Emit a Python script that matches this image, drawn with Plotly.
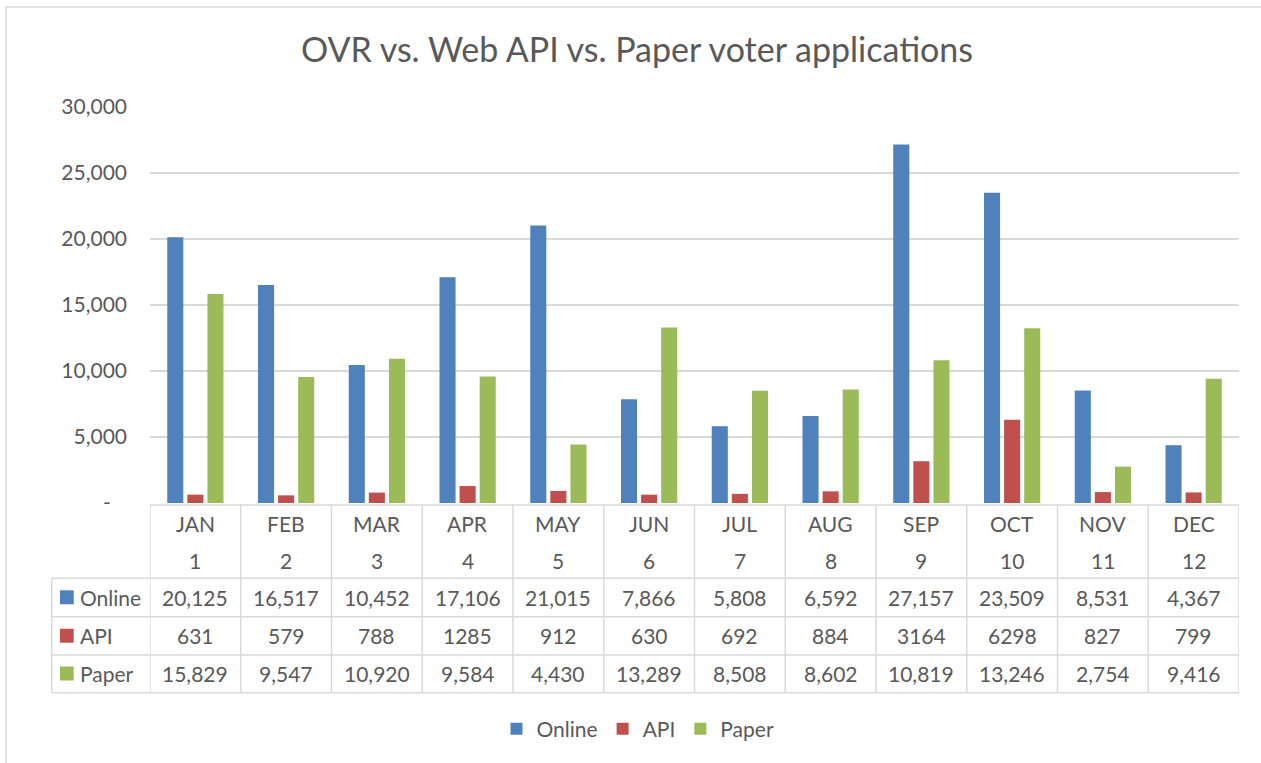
import plotly.graph_objects as go

months = ["JAN", "FEB", "MAR", "APR", "MAY", "JUN", "JUL", "AUG", "SEP", "OCT", "NOV", "DEC"]
month_nums = [1, 2, 3, 4, 5, 6, 7, 8, 9, 10, 11, 12]
online = [20125, 16517, 10452, 17106, 21015, 7866, 5808, 6592, 27157, 23509, 8531, 4367]
api = [631, 579, 788, 1285, 912, 630, 692, 884, 3164, 6298, 827, 799]
paper = [15829, 9547, 10920, 9584, 4430, 13289, 8508, 8602, 10819, 13246, 2754, 9416]
y_ticks = [0, 5000, 10000, 15000, 20000, 25000, 30000]
title = "OVR vs. Web API vs. Paper voter applications"

C_BLUE, C_RED, C_GREEN = "#4F81BD", "#C0504D", "#9BBB59"
TXT = "#595959"
GRID = "#D9D9D9"
FONT = "Lato"

W, H = 1261, 763
L, R, T, B = 150, 22, 107, 260
PW = W - L - R
PH = H - T - B
BOT = H - B  # pixel y of zero line


def yp(py):
    return (BOT - py) / PH


def xp(px):
    return (px - L) / PW


series = [("Online", online, C_BLUE, "{:,}"), ("API", api, C_RED, "{}"), ("Paper", paper, C_GREEN, "{:,}")]

fig = go.Figure()
for name, vals, col, fmt in series:
    fig.add_trace(go.Bar(x=months, y=vals, name=name, marker=dict(color=col, line=dict(width=0))))

shapes = []
annotations = []
line = dict(color=GRID, width=1.5)

head_top = 505
row_tops = [578.3, 616.7, 655.0, 692.7]
row_centers = [597.3, 635.7, 673.5]
left_x = 51.7

shapes.append(dict(type="line", xref="paper", yref="paper", x0=0, x1=1, y0=yp(head_top), y1=yp(head_top), line=line))
for rt in row_tops:
    shapes.append(dict(type="line", xref="paper", yref="paper", x0=xp(left_x), x1=1, y0=yp(rt), y1=yp(rt), line=line))
for i in range(len(months) + 1):
    shapes.append(dict(type="line", xref="x", yref="paper", x0=i - 0.5, x1=i - 0.5,
                       y0=yp(head_top), y1=yp(row_tops[-1]), line=line))
shapes.append(dict(type="line", xref="paper", yref="paper", x0=xp(left_x), x1=xp(left_x),
                   y0=yp(row_tops[0]), y1=yp(row_tops[-1]), line=line))

# chart border (top and left)
shapes.append(dict(type="line", xref="paper", yref="paper", x0=xp(6), x1=xp(1275), y0=yp(7), y1=yp(7),
                   line=dict(color=GRID, width=1.5)))
shapes.append(dict(type="line", xref="paper", yref="paper", x0=xp(6), x1=xp(6), y0=yp(7), y1=yp(775),
                   line=dict(color=GRID, width=1.5)))

cell_font = dict(family=FONT, size=21, color=TXT)
for i, m in enumerate(months):
    annotations.append(dict(x=m, y=yp(523), xref="x", yref="paper", text=m, showarrow=False,
                            font=cell_font, xanchor="center", yanchor="middle"))
    annotations.append(dict(x=m, y=yp(560), xref="x", yref="paper", text=str(month_nums[i]), showarrow=False,
                            font=cell_font, xanchor="center", yanchor="middle"))

for (name, vals, col, fmt), rc in zip(series, row_centers):
    shapes.append(dict(type="rect", xref="paper", yref="paper", x0=xp(60), x1=xp(73.7),
                       y0=yp(rc - 7), y1=yp(rc + 7), fillcolor=col, line=dict(width=0)))
    annotations.append(dict(x=xp(78), y=yp(rc), xref="paper", yref="paper", text=name, showarrow=False,
                            font=cell_font, xanchor="left", yanchor="middle"))
    for m, v in zip(months, vals):
        annotations.append(dict(x=m, y=yp(rc), xref="x", yref="paper", text=fmt.format(v), showarrow=False,
                                font=cell_font, xanchor="center", yanchor="middle"))

fig.update_layout(
    width=W, height=H,
    margin=dict(l=L, r=R, t=T, b=B, autoexpand=False),
    paper_bgcolor="white", plot_bgcolor="white",
    font=dict(family=FONT, color=TXT, size=21),
    title=dict(text=title, x=xp(637), xref="paper", xanchor="center", y=1 - 50 / H, yanchor="middle",
               font=dict(family=FONT, size=34, color=TXT)),
    barmode="group", bargap=0.336, bargroupgap=0.2,
    showlegend=True,
    legend=dict(orientation="h", x=xp(638), y=yp(729), xanchor="center", yanchor="middle",
                font=dict(family=FONT, size=21, color=TXT), itemclick=False),
    shapes=shapes, annotations=annotations,
)
fig.update_xaxes(showticklabels=False, showgrid=False, zeroline=False, showline=False, ticks="",
                 range=[-0.5, 11.5])
fig.update_yaxes(range=[0, 30000], tickvals=y_ticks,
                 ticktext=["-\u00a0\u00a0\u00a0"] + ["{:,}".format(v) for v in y_ticks[1:]],
                 showgrid=True, gridcolor=GRID, gridwidth=1.5, zeroline=False, showline=False,
                 ticks="", ticklabelstandoff=22, tickfont=dict(family=FONT, size=21, color=TXT))

fig.write_html("out.html", config={"displayModeBar": False},
               post_script="document.body.style.margin='0';document.body.style.overflow='hidden';")
